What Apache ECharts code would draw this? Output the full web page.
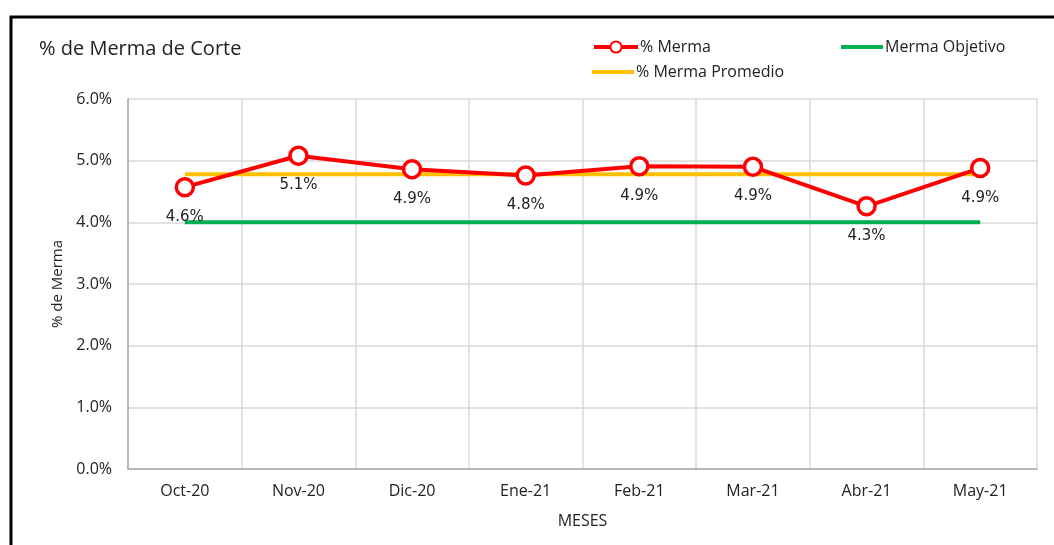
<!DOCTYPE html>
<html>
<head>
<meta charset="UTF-8">
<script src="https://cdn.jsdelivr.net/npm/echarts@6/dist/echarts.min.js"></script>
<title>% de Merma de Corte</title>
<style>
  html, body { margin: 0; padding: 0; background: #fff; }
  #main { width: 1054px; height: 545px; }
</style>
</head>
<body>
<div id="main"></div>
<script type="text/javascript">
  // datos
  var meses = ['Oct-20', 'Nov-20', 'Dic-20', 'Ene-21', 'Feb-21', 'Mar-21', 'Abr-21', 'May-21'];
  var merma = [4.57, 5.08, 4.86, 4.76, 4.91, 4.90, 4.26, 4.88];
  var mermaObjetivo = [4.0, 4.0, 4.0, 4.0, 4.0, 4.0, 4.0, 4.0];
  var mermaPromedio = [4.78, 4.78, 4.78, 4.78, 4.78, 4.78, 4.78, 4.78];

  var fuente = 'Open Sans';
  var textoLeyenda = { fontFamily: fuente, fontSize: 16, color: '#222', padding: [0, 0, 0, -3] };
  var myChart = echarts.init(document.getElementById('main'));

  var option = {
    backgroundColor: '#fff',
    animation: false,
    title: {
      text: '% de Merma de Corte',
      left: 34, top: 34,
      textStyle: { fontFamily: fuente, fontSize: 20, fontWeight: 'normal', color: '#222' }
    },
    graphic: [{
      type: 'rect',
      shape: { x: 11, y: 17, width: 1100, height: 600 },
      style: { fill: 'none', stroke: '#000', lineWidth: 3 },
      silent: true
    }],
    legend: [{
      data: ['% Merma'],
      left: 587, top: 34,
      itemWidth: 44, itemHeight: 14,
      lineStyle: { width: 4 },
      textStyle: textoLeyenda
    }, {
      data: [{ name: 'Merma Objetivo', icon: 'rect' }],
      left: 836, top: 34,
      itemWidth: 42, itemHeight: 4,
      textStyle: textoLeyenda
    }, {
      data: [{ name: '% Merma Promedio', icon: 'rect' }],
      left: 587, top: 59,
      itemWidth: 42, itemHeight: 4,
      textStyle: textoLeyenda
    }],
    grid: { left: 128, right: 17, top: 99, bottom: 76 },
    xAxis: {
      type: 'category',
      data: meses,
      name: 'MESES',
      nameLocation: 'middle',
      nameGap: 44,
      nameTextStyle: { fontFamily: fuente, fontSize: 16, color: '#222' },
      axisLine: { lineStyle: { color: '#aaa', width: 1.5 } },
      axisTick: { show: false },
      axisLabel: { fontFamily: fuente, fontSize: 16, color: '#222', margin: 14 },
      splitLine: { show: true, lineStyle: { color: '#d9d9d9', width: 1.5 } }
    },
    yAxis: {
      type: 'value',
      min: 0, max: 6, interval: 1,
      name: '% de Merma',
      nameLocation: 'middle',
      nameGap: 62,
      nameTextStyle: { fontFamily: fuente, fontSize: 15, color: '#222' },
      axisLine: { show: true, lineStyle: { color: '#aaa', width: 1.5 } },
      axisTick: { show: false },
      axisLabel: {
        fontFamily: fuente, fontSize: 16, color: '#222', margin: 16,
        formatter: function (v) { return v.toFixed(1) + '%'; }
      },
      splitLine: { lineStyle: { color: '#d9d9d9', width: 1.5 } }
    },
    series: [{
      name: 'Merma Objetivo',
      type: 'line',
      data: mermaObjetivo,
      symbol: 'none',
      color: '#00b050',
      lineStyle: { color: '#00b050', width: 4 },
      z: 2
    }, {
      name: '% Merma Promedio',
      type: 'line',
      data: mermaPromedio,
      symbol: 'none',
      color: '#ffc000',
      lineStyle: { color: '#ffc000', width: 4 },
      z: 3
    }, {
      name: '% Merma',
      type: 'line',
      data: merma,
      symbol: 'circle',
      symbolSize: 17,
      color: '#ff0000',
      lineStyle: { color: '#ff0000', width: 4 },
      itemStyle: { color: '#fff', borderColor: '#ff0000', borderWidth: 3.5 },
      label: {
        show: true,
        position: 'bottom',
        distance: 12,
        fontFamily: 'DejaVu Sans', fontSize: 15, color: '#222',
        formatter: function (p) { return p.value.toFixed(1) + '%'; }
      },
      z: 4
    }]
  };
  myChart.setOption(option);
</script>
</body>
</html>
